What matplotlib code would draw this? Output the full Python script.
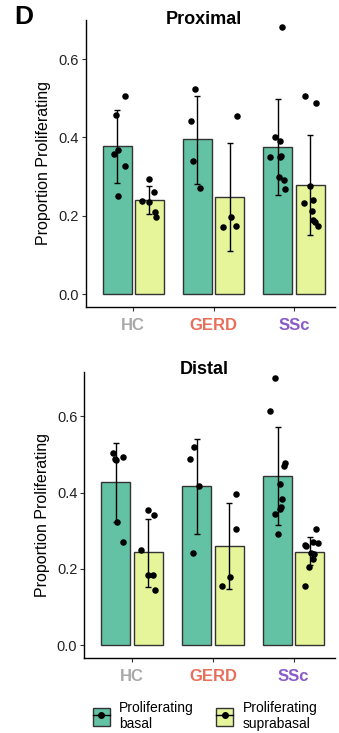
import numpy as np
import matplotlib
matplotlib.use("Agg")
import matplotlib.pyplot as plt
from matplotlib.patches import Patch
from matplotlib.lines import Line2D
from matplotlib.legend_handler import HandlerTuple

plt.rcParams['font.family'] = ['Liberation Sans', 'DejaVu Sans']

groups = ["HC", "GERD", "SSc"]
group_colors = ["#a9a9a9", "#e8705a", "#8a5cc8"]
cell_types = ["Proliferating\nbasal", "Proliferating\nsuprabasal"]
fill_colors = ["#63c2a3", "#e6f59a"]

# bar heights (mean) and error bar ends, per group: [basal, suprabasal]
prox_mean = [[0.379, 0.240], [0.395, 0.249], [0.377, 0.279]]
prox_lo = [[0.285, 0.204], [0.282, 0.111], [0.254, 0.151]]
prox_hi = [[0.471, 0.276], [0.506, 0.387], [0.499, 0.406]]

dist_mean = [[0.428, 0.244], [0.417, 0.260], [0.443, 0.245]]
dist_lo = [[0.324, 0.154], [0.293, 0.147], [0.314, 0.210]]
dist_hi = [[0.530, 0.331], [0.540, 0.373], [0.571, 0.285]]

# individual samples
prox_pts = [
    [[0.505, 0.458, 0.359, 0.368, 0.327, 0.251],
     [0.295, 0.238, 0.236, 0.261, 0.211, 0.196]],
    [[0.525, 0.442, 0.340, 0.271],
     [0.455, 0.198, 0.171, 0.173]],
    [[0.681, 0.401, 0.392, 0.350, 0.353, 0.350, 0.300, 0.292, 0.269],
     [0.505, 0.488, 0.275, 0.234, 0.241, 0.213, 0.190, 0.183, 0.173]],
]
dist_pts = [
    [[0.505, 0.489, 0.485, 0.493, 0.324, 0.272],
     [0.355, 0.341, 0.249, 0.183, 0.184, 0.146]],
    [[0.519, 0.487, 0.417, 0.243],
     [0.397, 0.306, 0.180, 0.155]],
    [[0.700, 0.615, 0.479, 0.471, 0.423, 0.384, 0.363, 0.357, 0.344, 0.291],
     [0.306, 0.263, 0.259, 0.272, 0.267, 0.243, 0.238, 0.225, 0.206, 0.156]],
]

# horizontal jitter of the sample dots around each bar centre
prox_jit = [
    [[0.093, -0.014, -0.039, 0.010, 0.093, 0.006],
     [-0.006, -0.093, -0.006, 0.060, 0.077, 0.081]],
    [[-0.033, -0.079, -0.050, 0.037],
     [0.091, 0.017, -0.087, 0.083]],
    [[0.050, -0.041, 0.025, -0.099, 0.037, 0.029, 0.008, 0.079, 0.091],
     [-0.058, 0.079, -0.004, -0.070, 0.041, 0.021, 0.037, 0.062, 0.099]],
]
dist_jit = [
    [[-0.039, -0.014, 0.006, 0.093, 0.010, 0.093],
     [-0.006, 0.077, -0.089, -0.002, 0.060, 0.081]],
    [[-0.033, -0.079, 0.033, -0.046],
     [0.091, 0.083, 0.017, -0.087]],
    [[-0.037, -0.095, 0.095, 0.079, 0.029, 0.054, 0.037, 0.025, -0.037, 0.008],
     [0.079, -0.066, -0.050, 0.041, 0.099, 0.008, 0.050, 0.033, -0.008, -0.058]],
]

W, H = 339, 733
fig = plt.figure(figsize=(W / 100, H / 100), dpi=100)


def panel(rect, title, title_y, mean, lo, hi, pts, jit, ylim):
    ax = fig.add_axes(rect)
    x = np.arange(1, len(groups) + 1)
    bw, dodge = 0.36, 0.2
    for k in range(2):
        xs = x + (k - 0.5) * 2 * dodge
        m = np.array([mean[g][k] for g in range(3)])
        ax.bar(xs, m, width=bw, color=fill_colors[k], edgecolor="#333333",
               linewidth=1.0, zorder=1)
        l = np.array([lo[g][k] for g in range(3)])
        h = np.array([hi[g][k] for g in range(3)])
        ax.errorbar(xs, m, yerr=[m - l, h - m], fmt="none", ecolor="black",
                    elinewidth=1.0, capsize=2, capthick=1.0, zorder=3)
        for g in range(3):
            ax.scatter(xs[g] + np.array(jit[g][k]), pts[g][k], s=22,
                       color="black", linewidths=0, zorder=4)
    ax.set_xlim(0.41, 3.51)
    ax.set_ylim(*ylim)
    ax.set_yticks([0.0, 0.2, 0.4, 0.6])
    ax.set_yticklabels(["0.0", "0.2", "0.4", "0.6"], fontsize=10.5, color="#222222")
    ax.set_xticks(x)
    ax.set_xticklabels(groups, fontsize=12, fontweight="bold")
    for lab, c in zip(ax.get_xticklabels(), group_colors):
        lab.set_color(c)
    ax.tick_params(axis="both", length=3, width=0.8, color="#333333", pad=2)
    ax.tick_params(axis="x", pad=5)
    for s in ("top", "right"):
        ax.spines[s].set_visible(False)
    for s in ("left", "bottom"):
        ax.spines[s].set_linewidth(1.0)
    ax.set_ylabel("Proportion Proliferating", fontsize=11.5, labelpad=5)
    fig.text(204 / W, 1 - title_y / H, title, fontsize=13, fontweight="bold",
             ha="center", va="center")
    return ax


panel([85.7 / W, 1 - 306.7 / H, (335 - 85.7) / W, 286.7 / H], "Proximal", 20,
      prox_mean, prox_lo, prox_hi, prox_pts, prox_jit, (-0.032, 0.70))
panel([84.3 / W, 1 - 658.3 / H, (335 - 84.3) / W, 286.6 / H], "Distal", 370,
      dist_mean, dist_lo, dist_hi, dist_pts, dist_jit, (-0.034, 0.717))

fig.text(14 / W, 1 - 17 / H, "D", fontsize=19, fontweight="bold",
         ha="left", va="center")

handles = []
for c in fill_colors:
    box = Patch(facecolor=c, edgecolor="#333333", linewidth=1.0)
    mark = Line2D([], [], color="black", linewidth=1.0, marker="o", markersize=4)
    handles.append((box, mark))
fig.legend(handles, cell_types, handler_map={tuple: HandlerTuple(ndivide=1, pad=0)},
           loc="center", bbox_to_anchor=(0.605, 1 - 716 / H), ncol=2, frameon=False,
           fontsize=10, handlelength=1.2, handleheight=1.7, handletextpad=0.7,
           columnspacing=1.6, labelspacing=0.1)

fig.savefig("out.png", dpi=100)
